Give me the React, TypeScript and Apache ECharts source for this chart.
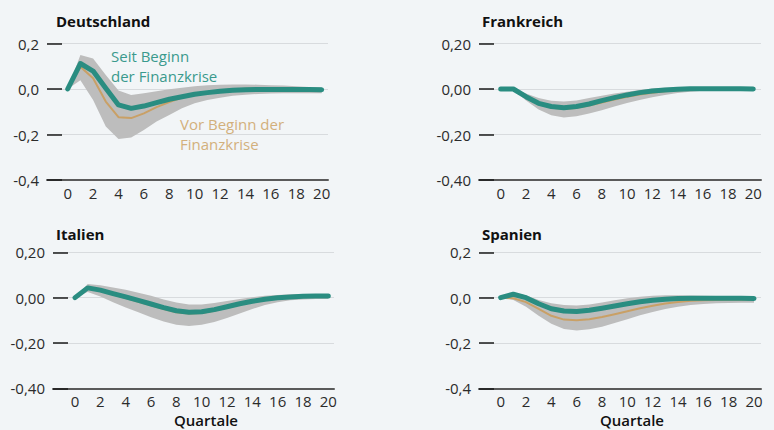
import React, { useEffect, useRef } from "react";
import * as echarts from "echarts";

const quarters = [0, 1, 2, 3, 4, 5, 6, 7, 8, 9, 10, 11, 12, 13, 14, 15, 16, 17, 18, 19, 20];
const xTickLabels = [0, 2, 4, 6, 8, 10, 12, 14, 16, 18, 20];
const yTicks = [-0.4, -0.2, 0, 0.2];

const panelTitles = ["Deutschland", "Frankreich", "Italien", "Spanien"];
const labelDecimals = [1, 2, 2, 1];

// Deutschland
const deSeit = [0, 0.112, 0.079, 0.003, -0.07, -0.085, -0.075, -0.06, -0.045, -0.034, -0.023, -0.016, -0.01, -0.006, -0.003, -0.002, -0.002, -0.002, -0.002, -0.002, -0.003];
const deVor = [0, 0.098, 0.047, -0.055, -0.124, -0.128, -0.107, -0.08, -0.057, -0.038, -0.023, -0.013, -0.006, -0.002, 0.001, 0.001, 0, 0, 0, 0, -0.001];
const deUpper = [0, 0.149, 0.134, 0.061, -0.007, -0.026, -0.019, -0.01, -0.001, 0.006, 0.012, 0.016, 0.019, 0.02, 0.02, 0.019, 0.017, 0.015, 0.012, 0.009, 0.007];
const deLower = [0, 0.039, -0.048, -0.165, -0.22, -0.213, -0.18, -0.143, -0.114, -0.085, -0.063, -0.048, -0.038, -0.03, -0.025, -0.022, -0.02, -0.019, -0.019, -0.019, -0.019];

// Frankreich
const frSeit = [0, 0, -0.034, -0.063, -0.077, -0.082, -0.077, -0.066, -0.051, -0.038, -0.026, -0.016, -0.009, -0.004, -0.001, 0.001, 0.001, 0.001, 0.001, 0.001, 0];
const frVor = [0, 0, -0.036, -0.066, -0.082, -0.087, -0.083, -0.073, -0.059, -0.046, -0.034, -0.024, -0.016, -0.01, -0.006, -0.003, -0.001, 0, 0, 0, 0];
const frUpper = [0, 0.003, -0.02, -0.04, -0.052, -0.055, -0.05, -0.04, -0.03, -0.02, -0.012, -0.004, 0.002, 0.006, 0.007, 0.007, 0.007, 0.006, 0.005, 0.004, 0.003];
const frLower = [0, -0.003, -0.05, -0.09, -0.115, -0.125, -0.12, -0.108, -0.093, -0.077, -0.062, -0.048, -0.036, -0.026, -0.018, -0.012, -0.008, -0.005, -0.003, -0.002, -0.002];

// Italien
const itSeit = [0, 0.043, 0.033, 0.018, 0.003, -0.012, -0.028, -0.044, -0.058, -0.064, -0.062, -0.053, -0.04, -0.027, -0.016, -0.007, -0.001, 0.003, 0.006, 0.007, 0.007];
const itVor = [0, 0.04, 0.03, 0.014, -0.002, -0.018, -0.034, -0.05, -0.065, -0.07, -0.068, -0.058, -0.044, -0.03, -0.018, -0.008, -0.001, 0.004, 0.007, 0.008, 0.008];
const itUpper = [0, 0.06, 0.055, 0.045, 0.035, 0.022, 0.008, -0.008, -0.022, -0.03, -0.03, -0.024, -0.015, -0.006, 0.002, 0.008, 0.012, 0.015, 0.016, 0.016, 0.016];
const itLower = [0, 0.025, 0.005, -0.02, -0.043, -0.065, -0.087, -0.105, -0.12, -0.125, -0.12, -0.108, -0.09, -0.07, -0.05, -0.033, -0.02, -0.012, -0.008, -0.006, -0.006];

// Spanien
const esSeit = [0, 0.015, 0, -0.027, -0.049, -0.059, -0.061, -0.056, -0.047, -0.037, -0.027, -0.018, -0.012, -0.007, -0.004, -0.003, -0.003, -0.003, -0.003, -0.003, -0.004];
const esVor = [0, -0.003, -0.02, -0.05, -0.08, -0.097, -0.1, -0.095, -0.085, -0.073, -0.06, -0.047, -0.036, -0.026, -0.019, -0.014, -0.011, -0.01, -0.009, -0.009, -0.009];
const esUpper = [0, 0.02, 0.01, -0.01, -0.025, -0.033, -0.035, -0.03, -0.022, -0.012, -0.003, 0.004, 0.008, 0.01, 0.01, 0.009, 0.008, 0.007, 0.006, 0.005, 0.005];
const esLower = [0, -0.01, -0.04, -0.08, -0.115, -0.138, -0.145, -0.14, -0.128, -0.112, -0.095, -0.078, -0.063, -0.05, -0.04, -0.033, -0.028, -0.025, -0.024, -0.023, -0.023];

const seitSeries = [deSeit, frSeit, itSeit, esSeit];
const vorSeries = [deVor, frVor, itVor, esVor];
const upperBands = [deUpper, frUpper, itUpper, esUpper];
const lowerBands = [deLower, frLower, itLower, esLower];

const FONT = "'Open Sans', 'Noto Sans', sans-serif";
const TEAL = "#2a8d81";
const GOLD = "#c9a066";
const BAND = "#bdbdbd";
const BG = "#f2f5f7";

const grids = [
  { left: 47, top: 43.5, width: 281, height: 136.5, xmin: -1.63, xmax: 20.5 },
  { left: 479, top: 43.5, width: 282, height: 136.5, xmin: -1.72, xmax: 20.61 },
  { left: 53, top: 252.3, width: 281, height: 136, xmin: -1.74, xmax: 20.45 },
  { left: 479, top: 252.3, width: 282, height: 136, xmin: -1.71, xmax: 20.55 },
];

export default function App() {
  const ref = useRef<HTMLDivElement>(null);
  useEffect(() => {
    if (!ref.current) return;
    const chart = echarts.init(ref.current, null, { renderer: "svg" });
    const series: any[] = [];
    panelTitles.forEach((_, i) => {
      const pair = (arr: number[]) => quarters.map((q, k) => [q, arr[k]]);
      const up = upperBands[i];
      const lo = lowerBands[i];
      series.push({
        type: "custom",
        xAxisIndex: i,
        yAxisIndex: i,
        data: quarters.map((q, k) => [q, up[k], lo[k]]),
        encode: { x: 0, y: [1, 2] },
        silent: true,
        renderItem: (params: any, api: any) => {
          if (params.dataIndex !== 0) return null;
          const pts: number[][] = [];
          quarters.forEach((q, k) => pts.push(api.coord([q, up[k]])));
          for (let k = quarters.length - 1; k >= 0; k--) pts.push(api.coord([quarters[k], lo[k]]));
          return { type: "polygon", shape: { points: pts }, style: { fill: BAND } };
        },
      });
      series.push({
        type: "line",
        name: "Vor Beginn der Finanzkrise",
        xAxisIndex: i,
        yAxisIndex: i,
        data: pair(vorSeries[i]),
        symbol: "none",
        lineStyle: { width: 2, color: GOLD, join: "round" },
        silent: true,
      });
      series.push({
        type: "line",
        name: "Seit Beginn der Finanzkrise",
        xAxisIndex: i,
        yAxisIndex: i,
        data: pair(seitSeries[i]),
        symbol: "none",
        lineStyle: { width: 5, color: TEAL, cap: "round", join: "round" },
        silent: true,
      });
    });

    const option: any = {
      animation: false,
      backgroundColor: BG,
      grid: grids.map((g) => ({ left: g.left, top: g.top, width: g.width, height: g.height, containLabel: false })),
      xAxis: grids.map((g, i) => ({
        type: "value",
        gridIndex: i,
        min: g.xmin,
        max: g.xmax,
        axisLine: { show: true, onZero: false, lineStyle: { color: "#5a5a5a", width: 2 } },
        axisTick: { show: false },
        splitLine: { show: false },
        axisLabel: {
          customValues: xTickLabels,
          margin: 5,
          fontFamily: FONT,
          fontSize: 15,
          color: "#2b2b2b",
        },
      })),
      yAxis: grids.map((g, i) => ({
        type: "value",
        gridIndex: i,
        min: -0.4,
        max: 0.2,
        interval: 0.2,
        axisLine: { show: false, onZero: false },
        axisTick: {
          show: true,
          inside: true,
          length: 15,
          customValues: yTicks,
          lineStyle: { color: "#1a1a1a", width: 1.5 },
        },
        splitLine: { show: true, lineStyle: { color: "#d8dbde", width: 1 } },
        axisLabel: {
          margin: 8,
          fontFamily: FONT,
          fontSize: 15,
          color: "#2b2b2b",
          formatter: (v: number) => {
            const val = Math.abs(v) < 1e-9 ? 0 : v;
            return val.toFixed(labelDecimals[i]).replace(".", ",");
          },
        },
      })),
      series,
      graphic: [
        { type: "text", left: 56, top: 13, style: { text: panelTitles[0], font: `bold 15px ${FONT}`, fill: "#111" } },
        { type: "text", left: 482, top: 13, style: { text: panelTitles[1], font: `bold 15px ${FONT}`, fill: "#111" } },
        { type: "text", left: 56, top: 226, style: { text: panelTitles[2], font: `bold 15px ${FONT}`, fill: "#111" } },
        { type: "text", left: 482, top: 226, style: { text: panelTitles[3], font: `bold 15px ${FONT}`, fill: "#111" } },
        { type: "text", x: 111, y: 55.5, style: { text: "Seit Beginn", font: `15px ${FONT}`, lineHeight: 17, fill: "#3a9a8d", verticalAlign: "middle" } },
        { type: "text", x: 111, y: 75.5, style: { text: "der Finanzkrise", font: `15px ${FONT}`, lineHeight: 17, fill: "#3a9a8d", verticalAlign: "middle" } },
        { type: "text", x: 180, y: 123.5, style: { text: "Vor Beginn der", font: `15px ${FONT}`, lineHeight: 17, fill: "#d2b07c", verticalAlign: "middle" } },
        { type: "text", x: 180, y: 143.5, style: { text: "Finanzkrise", font: `15px ${FONT}`, lineHeight: 17, fill: "#d2b07c", verticalAlign: "middle" } },
        {
          type: "text",
          x: 206,
          y: 420,
          style: { text: "Quartale", font: `600 15px ${FONT}`, fill: "#111", align: "center", verticalAlign: "middle" },
        },
        {
          type: "text",
          x: 632,
          y: 420,
          style: { text: "Quartale", font: `600 15px ${FONT}`, fill: "#111", align: "center", verticalAlign: "middle" },
        },
      ],
    };
    chart.setOption(option);
    return () => chart.dispose();
  }, []);
  return (
    <div
      ref={ref}
      style={{ position: "fixed", left: 0, top: 0, width: 774, height: 430, background: BG }}
    />
  );
}
